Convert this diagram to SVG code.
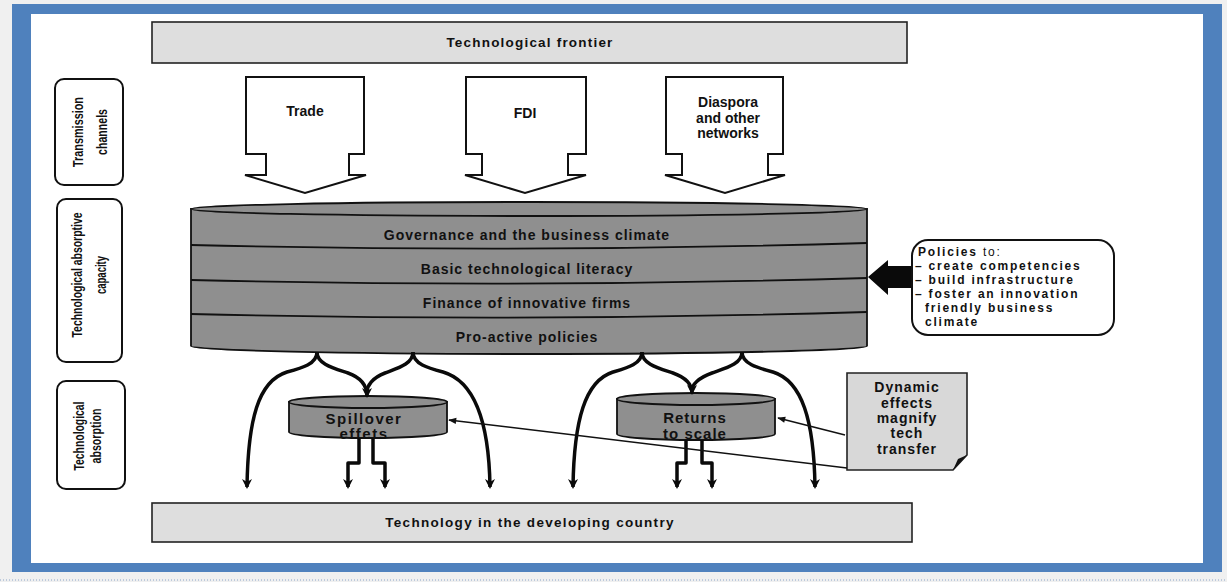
<svg xmlns="http://www.w3.org/2000/svg" width="1227" height="582" viewBox="0 0 1227 582">
<defs>
<style>
.t{font-family:"Liberation Sans",Arial,sans-serif;font-weight:bold;fill:#111;text-anchor:middle}
.side{font-family:"Liberation Sans Narrow","Liberation Sans",Arial,sans-serif;font-weight:bold;font-size:15px;fill:#111;text-anchor:middle}
.box{fill:#fff;stroke:#111;stroke-width:2}
.banner{fill:#dedede;stroke:#222;stroke-width:1.6}
.cyl{fill:#8f8f8f;stroke:#111;stroke-width:1.8}
.band{fill:none;stroke:#111;stroke-width:1.8}
.thick{fill:none;stroke:#0a0a0a;stroke-width:3.5;stroke-linejoin:round}
.thin{fill:none;stroke:#111;stroke-width:1.5}
.pol{font-family:"Liberation Sans",Arial,sans-serif;font-weight:bold;font-size:12px;letter-spacing:1.8px;fill:#111}
</style>
<marker id="ahd" viewBox="0 0 10 10" refX="5" refY="8" markerWidth="12" markerHeight="10" markerUnits="userSpaceOnUse">
<path d="M0,0 L5,3 L10,0 L5,10 Z" fill="#0a0a0a"/>
</marker>
<marker id="ta" viewBox="0 0 10 10" refX="9" refY="5" markerWidth="10" markerHeight="8" markerUnits="userSpaceOnUse" orient="auto">
<path d="M0,1 L10,5 L0,9 Z" fill="#111"/>
</marker>
</defs>

<rect x="0" y="0" width="1227" height="582" fill="#f0f0f0"/>
<rect x="12" y="4" width="1210" height="568" fill="#4f81bd"/>
<rect x="31" y="14" width="1172" height="549" fill="#ffffff"/>
<line x1="0" y1="580" x2="1227" y2="580" stroke="#8aa4c8" stroke-width="1" stroke-dasharray="1,2"/>

<g id="frontier">
<rect class="banner" x="152" y="22" width="755" height="41"/>
<text class="t" x="530" y="47" font-size="13.5" letter-spacing="1.2">Technological frontier</text>
</g>

<g id="label-transmission">
<rect class="box" x="55" y="79" width="68" height="106" rx="9"/>
<text class="side" transform="translate(83,132) rotate(-90)" textLength="70" lengthAdjust="spacingAndGlyphs">Transmission</text>
<text class="side" transform="translate(107,132) rotate(-90)" textLength="46" lengthAdjust="spacingAndGlyphs">channels</text>
</g>

<g id="label-capacity">
<rect class="box" x="57" y="199" width="65" height="163" rx="9"/>
<text class="side" transform="translate(82,275) rotate(-90)" textLength="125" lengthAdjust="spacingAndGlyphs">Technological absorptive</text>
<text class="side" transform="translate(106,275) rotate(-90)" textLength="38" lengthAdjust="spacingAndGlyphs">capacity</text>
</g>

<g id="label-absorption">
<rect class="box" x="57" y="381" width="68" height="108" rx="9"/>
<text class="side" transform="translate(84,436) rotate(-90)" textLength="69" lengthAdjust="spacingAndGlyphs">Technological</text>
<text class="side" transform="translate(101,436) rotate(-90)" textLength="55" lengthAdjust="spacingAndGlyphs">absorption</text>
</g>

<g id="trade">
<path class="box" d="M246,77 H364 V154 H349 V175 H366 L305,193 L245,175 H266 V154 H246 Z"/>
<text class="t" x="305" y="116" font-size="14">Trade</text>
</g>
<g id="fdi">
<path class="box" d="M466,77 H586 V154 H568 V175 H586 L525,193 L465,175 H482 V154 H466 Z"/>
<text class="t" x="525" y="118" font-size="14">FDI</text>
</g>
<g id="diaspora">
<path class="box" d="M666,77 H783 V154 H768 V175 H785 L725,193 L665,175 H682 V154 H666 Z"/>
<text class="t" x="728" y="107" font-size="14">Diaspora</text>
<text class="t" x="728" y="123" font-size="14">and other</text>
<text class="t" x="728" y="138" font-size="14">networks</text>
</g>

<g id="capacity-cylinder">
<path class="cyl" d="M191,209 V346 A338,8 0 0 0 867,346 V209 Z"/>
<ellipse class="cyl" cx="529" cy="209" rx="338" ry="7"/>
<path class="band" d="M191,245 Q529,253 867,243"/>
<path class="band" d="M191,280 Q529,288 867,278"/>
<path class="band" d="M191,314 Q529,322 867,312"/>
<text class="t" x="527" y="240" font-size="14" letter-spacing="1">Governance and the business climate</text>
<text class="t" x="527" y="274" font-size="14" letter-spacing="1">Basic technological literacy</text>
<text class="t" x="527" y="308" font-size="14" letter-spacing="1">Finance of innovative firms</text>
<text class="t" x="527" y="342" font-size="14" letter-spacing="1">Pro-active policies</text>
</g>

<g id="policies">
<path d="M868,277 L888,260 V266 H914 V288 H888 V295 Z" fill="#0a0a0a"/>
<rect class="box" x="912" y="240" width="202" height="95" rx="16"/>
<text class="pol" x="918" y="256">Policies<tspan font-weight="normal"> to:</tspan></text>
<text class="pol" x="915" y="270">– create competencies</text>
<text class="pol" x="915" y="284">–  build infrastructure</text>
<text class="pol" x="915" y="298">– foster an innovation</text>
<text class="pol" x="925" y="312">friendly business</text>
<text class="pol" x="925" y="326">climate</text>
</g>

<g id="spillover">
<path class="cyl" d="M289,402 V432 A79,6 0 0 0 447,432 V402 Z"/>
<ellipse class="cyl" cx="368" cy="402" rx="79" ry="6"/>
<text class="t" x="364" y="424" font-size="15" letter-spacing="1.5">Spillover</text>
<text class="t" x="364" y="439" font-size="15" letter-spacing="1.5">effets</text>
</g>

<g id="returns">
<path class="cyl" d="M617,399 V434 A79,6 0 0 0 775,434 V399 Z"/>
<ellipse class="cyl" cx="696" cy="399" rx="79" ry="6"/>
<text class="t" x="695" y="423" font-size="15" letter-spacing="1">Returns</text>
<text class="t" x="695" y="439" font-size="15" letter-spacing="1">to scale</text>
</g>

<g id="dynamic">
<path d="M847,373 H967 V455 L953,470 H847 Z" fill="#d8d8d8" stroke="#222" stroke-width="1.6"/>
<path d="M953,470 L967,455 L958,459 Z" fill="#111"/>
<text class="t" x="907" y="392" font-size="14" letter-spacing="1">Dynamic</text>
<text class="t" x="907" y="408" font-size="14" letter-spacing="1">effects</text>
<text class="t" x="907" y="423" font-size="14" letter-spacing="1">magnify</text>
<text class="t" x="907" y="438" font-size="14" letter-spacing="1">tech</text>
<text class="t" x="907" y="454" font-size="14" letter-spacing="1">transfer</text>
</g>

<g id="developing">
<rect class="banner" x="152" y="503" width="760" height="39"/>
<text class="t" x="530" y="527" font-size="13.5" letter-spacing="1.3">Technology in the developing country</text>
</g>

<g id="connectors">
<path class="thick" marker-end="url(#ahd)" d="M317,352 C317,364 302,368 287,372 C258,381 248,420 247,487"/>
<path class="thick" marker-end="url(#ahd)" d="M317,352 C317,364 333,368 348,373 C362,378 367,386 367,396"/>
<path class="thick" d="M413,352 C413,364 398,368 385,373 C372,378 367,386 367,392"/>
<path class="thick" marker-end="url(#ahd)" d="M413,352 C413,364 428,368 443,372 C474,381 489,420 490,487"/>
<path class="thick" marker-end="url(#ahd)" d="M359,438 V463 H348 V487"/>
<path class="thick" marker-end="url(#ahd)" d="M373,438 V463 H385 V487"/>

<path class="thick" marker-end="url(#ahd)" d="M642,352 C642,364 627,368 613,372 C585,381 574,420 573,487"/>
<path class="thick" marker-end="url(#ahd)" d="M642,352 C642,364 658,368 673,373 C687,378 692,385 692,393"/>
<path class="thick" d="M742,352 C742,364 726,368 712,373 C698,378 692,385 692,390"/>
<path class="thick" marker-end="url(#ahd)" d="M742,352 C742,364 758,368 773,372 C802,381 814,420 815,487"/>
<path class="thick" marker-end="url(#ahd)" d="M686,440 V463 H677 V487"/>
<path class="thick" marker-end="url(#ahd)" d="M702,440 V463 H712 V487"/>

<line class="thin" x1="845" y1="435" x2="778" y2="418" marker-end="url(#ta)"/>
<line class="thin" x1="847" y1="468" x2="449" y2="420" marker-end="url(#ta)"/>
</g>
</svg>
